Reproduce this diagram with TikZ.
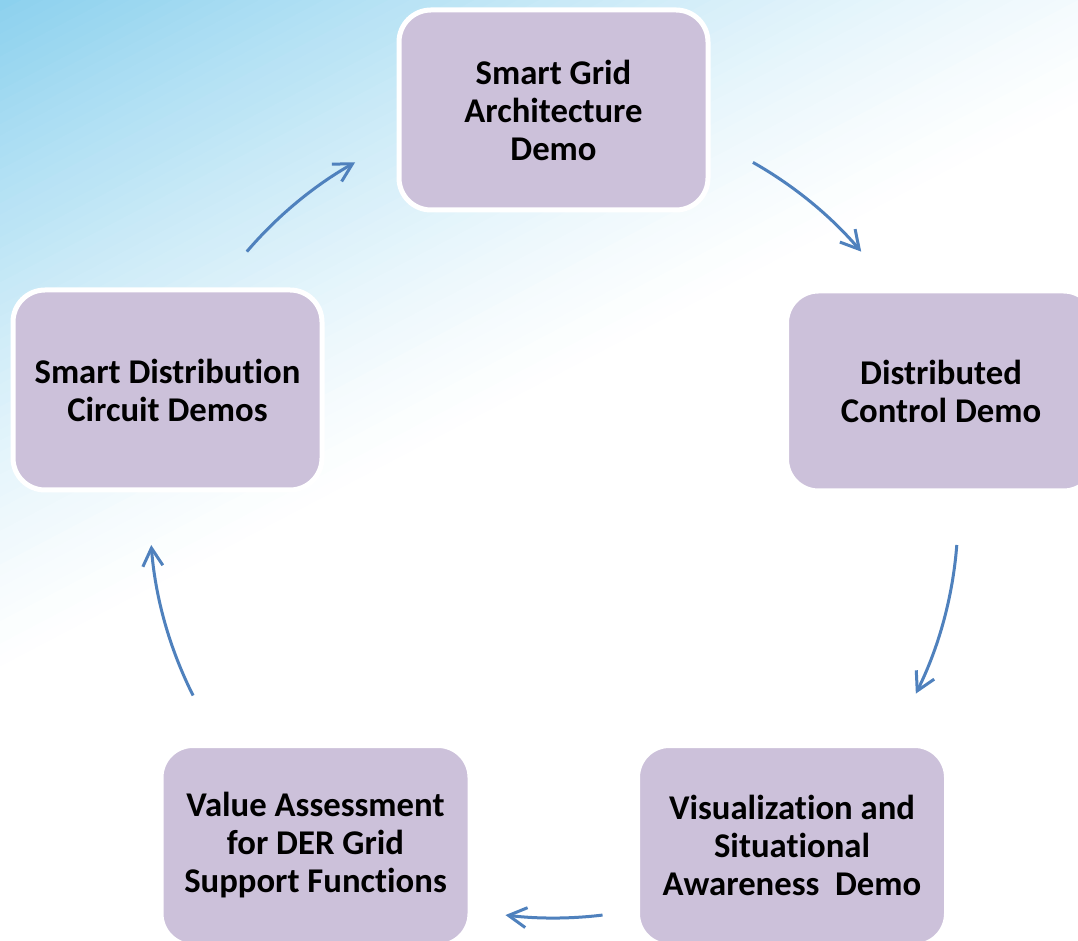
\documentclass[tikz,border=0pt]{standalone}
\usepackage{fontspec}
\setmainfont{Carlito}[Ligatures={NoCommon}]
\usetikzlibrary{arrows.meta}
\definecolor{bgblue}{HTML}{8CD1EE}
\definecolor{boxfill}{HTML}{CCC1DA}
\definecolor{arrowblue}{HTML}{4F81BD}
\begin{document}
\begin{tikzpicture}[x=1pt,y=1pt,
  stepbox/.style={rectangle, rounded corners=32pt, fill=boxfill, draw=white, line width=5pt,
    minimum width=309pt, minimum height=200pt, align=center,
    font=\fontsize{34.7}{38}\selectfont\bfseries, inner sep=0pt, text=black},
  cyc/.style={draw=arrowblue, line width=3pt,
    -{Straight Barb[length=18pt,width=20pt,line width=3pt]}}]
\useasboundingbox (0,0) rectangle (1078,940);
\clip (0,0) rectangle (1078,940);
\fill[white] (0,0) rectangle (1078,940);
% background gradient bands (soft fade from the top-left corner)
\foreach \i in {0,...,59}{
  \pgfmathsetmacro{\da}{\i*10}
  \pgfmathsetmacro{\db}{\i*10+11}
  \pgfmathtruncatemacro{\pc}{100*(max(0,1-\i/60))^1.3}
  \fill[bgblue!\pc!white]
    ({\da*0.4641-1600*0.8861},{940-\da*0.8861-1600*0.4641}) --
    ({\da*0.4641+1600*0.8861},{940-\da*0.8861+1600*0.4641}) --
    ({\db*0.4641+1600*0.8861},{940-\db*0.8861+1600*0.4641}) --
    ({\db*0.4641-1600*0.8861},{940-\db*0.8861-1600*0.4641}) -- cycle;
}
% boxes
\node[stepbox] (top)   at (553.5,830) {Smart Grid\\Architecture\\Demo};
\node[stepbox] (left)  at (167.5,550) {Smart Distribution\\Circuit Demos};
\node[stepbox] (right) at (941,549)   {Distributed\\Control Demo};
\node[stepbox] (bl)    at (315.5,94.5)  {Value Assessment\\for DER Grid\\Support Functions};
\node[stepbox] (br)    at (792,94.5)  {Visualization and\\Situational\\Awareness\ \ Demo};
% arc end points on the cycle circle
\begin{scope}[shift={(554,426)}]
  \coordinate (a1s) at (139.5:404);
  \coordinate (a2s) at (60.5:404);
  \coordinate (a3s) at (-4.4:404);
  \coordinate (a4s) at (-83.1:404);
  \coordinate (a5s) at (206.7:404);
\end{scope}
\draw[cyc] (a1s) arc[start angle=139.5, end angle=119.5, radius=404];
\draw[cyc] (a2s) arc[start angle=60.5, end angle=40.5, radius=404];
\draw[cyc] (a3s) arc[start angle=-4.4, end angle=-26.4, radius=404];
\draw[cyc] (a4s) arc[start angle=-83.1, end angle=-96.9, radius=404];
\draw[cyc] (a5s) arc[start angle=206.7, end angle=184.4, radius=404];
\end{tikzpicture}
\end{document}
